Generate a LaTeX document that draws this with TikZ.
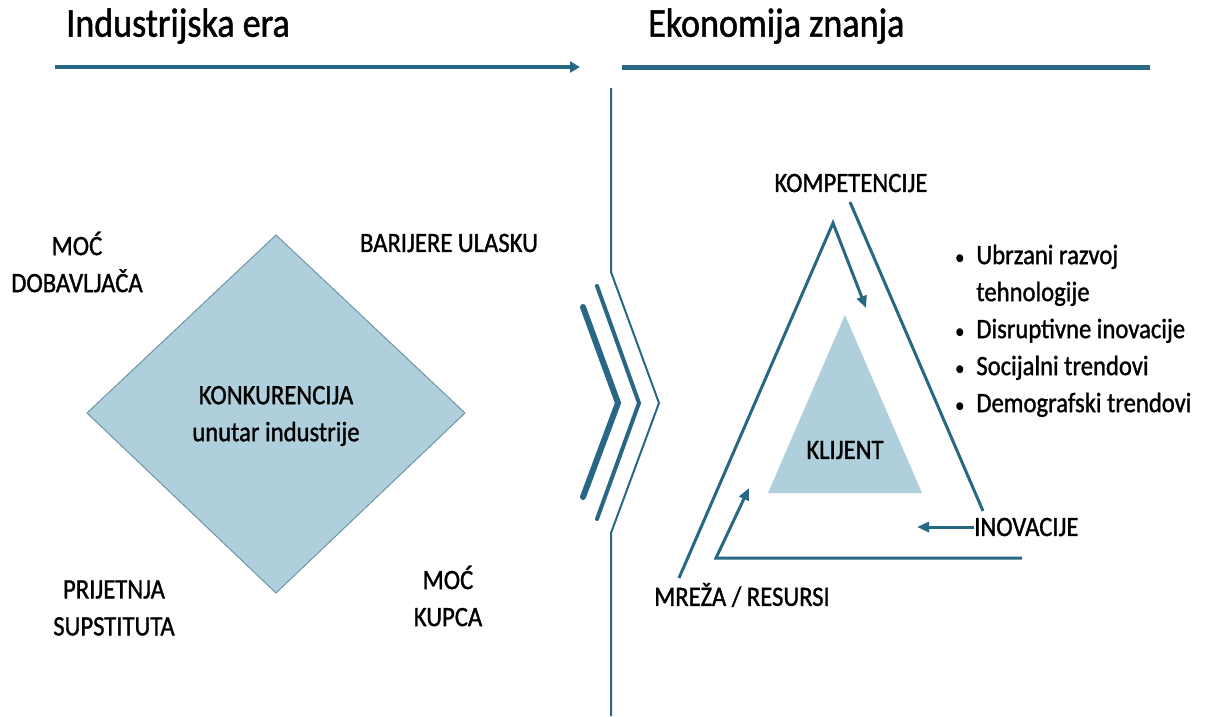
\documentclass[tikz,border=0pt]{standalone}
\usepackage{fontspec}
\setmainfont{Carlito}[FakeStretch=0.88,FakeBold=1.2]
\usetikzlibrary{arrows.meta}
\definecolor{linecol}{RGB}{40,104,132}
\definecolor{fillcol}{RGB}{174,207,219}
\definecolor{edgecol}{RGB}{110,150,165}
\newcommand{\labelsize}{\fontsize{28}{37}\selectfont}
\newcommand{\dotitem}{{\fontsize{21}{21}\selectfont\textbullet}}

\begin{document}
\begin{tikzpicture}[x=1pt,y=-1pt,
	every node/.style={font=\labelsize, inner sep=0pt},
	head/.style={font=\fontsize{41}{44}\selectfont, anchor=west},
	stroke/.style={draw=linecol, line width=3pt},
	arr/.style={stroke, -{Triangle[length=12pt,width=10pt]}}]
	\useasboundingbox (0,0) rectangle (1211,716);

	% headings
	\node[head] (ind) at (66,26) {Industrijska era};
	\node[head] (eko) at (648,26) {Ekonomija znanja};
	\coordinate (l1) at (55,67);
	\coordinate (l2) at (580,67);
	\coordinate (r1) at (622,67);
	\coordinate (r2) at (1150,67);
	\draw[draw=linecol, line width=4pt, -{Triangle[length=10pt,width=11pt]}] (l1) -- (l2);
	\draw[draw=linecol, line width=5pt] (r1) -- (r2);

	% divider with chevrons
	\coordinate (v1) at (611,88);
	\coordinate (v2) at (611,272);
	\coordinate (v3) at (659,403);
	\coordinate (v4) at (611,533);
	\coordinate (v5) at (611,716);
	\draw[draw=linecol, line width=2pt] (v1) -- (v2) -- (v3) -- (v4) -- (v5);
	\draw[draw=linecol, line width=4pt, line cap=round] (597,286) -- (639,403) -- (597,519);
	\draw[draw=linecol, line width=6pt, line cap=round] (583,307) -- (618,403) -- (583,497);

	% industrial era
	\coordinate (dt) at (276,235);
	\coordinate (dr) at (465,413);
	\coordinate (db) at (276,593);
	\coordinate (dl) at (87,413);
	\fill[fillcol, draw=edgecol, line width=1pt] (dt) -- (dr) -- (db) -- (dl) -- cycle;
	\node[align=center] (konk) at (276,416) {KONKURENCIJA\\unutar industrije};
	\node[align=center] (dob) at (77,262) {MOĆ\\DOBAVLJAČA};
	\node (bar) at (449,243) {BARIJERE ULASKU};
	\node[align=center] (sup) at (114,608) {PRIJETNJA\\SUPSTITUTA};
	\node[align=center] (kup) at (448,596) {MOĆ\\KUPCA};

	% knowledge economy
	\coordinate (k1) at (845,315);
	\coordinate (k2) at (922,493);
	\coordinate (k3) at (768,493);
	\fill[fillcol] (k1) -- (k2) -- (k3) -- cycle;
	\node (klijent) at (845,450) {KLIJENT};

	\node (komp) at (851,183) {KOMPETENCIJE};
	\node (mreza) at (742,595) {MREŽA / RESURSI};
	\node[anchor=west] (inov) at (974,527) {INOVACIJE};

	\coordinate (mlow) at (679,578);
	\coordinate (apex) at (833,223);
	\coordinate (ktip) at (866,308);
	\draw[arr] (mlow) -- (apex) -- (ktip);

	\coordinate (kline) at (850,202);
	\coordinate (iline) at (983,511);
	\draw[stroke] (kline) -- (iline);

	\coordinate (itip) at (917,527);
	\draw[arr] (inov.west) -- (itip);

	\coordinate (b1) at (1022,558);
	\coordinate (b2) at (716,558);
	\coordinate (mtip) at (749,488);
	\draw[arr] (b1) -- (b2) -- (mtip);

	% trends
	\node[anchor=north west] (trend) at (955,238) {%
		\begin{tabular}{@{}l@{\hspace{12pt}}l@{}}
		\dotitem & Ubrzani razvoj\\
		 & tehnologije\\
		\dotitem & Disruptivne inovacije\\
		\dotitem & Socijalni trendovi\\
		\dotitem & Demografski trendovi
		\end{tabular}};
\end{tikzpicture}
\end{document}
